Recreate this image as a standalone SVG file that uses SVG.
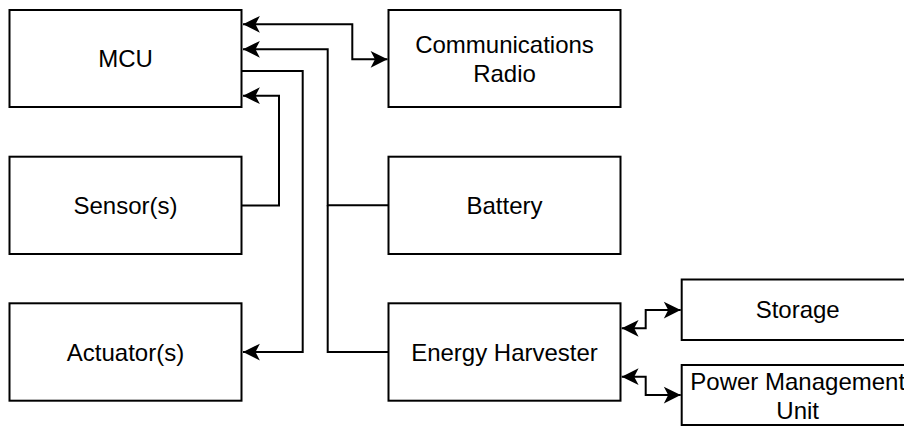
<svg xmlns="http://www.w3.org/2000/svg" width="904" height="426" viewBox="0 0 904 426">
  <style>
    .box { fill: #ffffff; stroke: #000000; stroke-width: 2; }
    .lbl { font-family: "Liberation Sans", Arial, Helvetica, sans-serif; font-size: 24px; fill: #000000; text-anchor: middle; }
    .edge { fill: none; stroke: #000000; stroke-width: 2; }
    .one { marker-end: url(#arrow); }
    .two { marker-start: url(#arrow); marker-end: url(#arrow); }
  </style>
  <defs>
    <marker id="arrow" markerUnits="userSpaceOnUse" markerWidth="20" markerHeight="20" refX="0" refY="0" viewBox="-15 -8 16 16" orient="auto-start-reverse" overflow="visible">
      <path d="M0,0 L-13.5,-6.7 L-10,0 L-13.5,6.7 Z" fill="#000000" stroke="none"/>
    </marker>
  </defs>
  <rect width="904" height="426" fill="#ffffff"/>

  <g id="connectors">
    <path class="edge two" d="M 243 24.3 H 352.3 V 59.3 H 387.5"/>
    <path class="edge one" d="M 388.5 205.3 H 327.7 V 49.3 H 243"/>
    <path class="edge" d="M 388.5 352 H 327.7 V 205.3"/>
    <path class="edge one" d="M 241.5 205.5 H 279 V 95.7 H 243"/>
    <path class="edge one" d="M 241.5 71 H 302.7 V 352 H 243"/>
    <path class="edge two" d="M 621.7 328.3 H 645.7 V 310 H 680.7"/>
    <path class="edge two" d="M 621.7 376.7 H 645.7 V 395 H 680.7"/>
  </g>

  <g id="mcu">
    <rect class="box" x="9.5" y="10" width="232" height="97"/>
    <text class="lbl" x="125.5" y="67.3">MCU</text>
  </g>
  <g id="sensors">
    <rect class="box" x="9.5" y="156.7" width="232" height="97.3"/>
    <text class="lbl" x="125.5" y="214">Sensor(s)</text>
  </g>
  <g id="actuators">
    <rect class="box" x="9.5" y="303.3" width="232" height="97.4"/>
    <text class="lbl" x="125.5" y="360.6">Actuator(s)</text>
  </g>
  <g id="radio">
    <rect class="box" x="388.5" y="10" width="232" height="97"/>
    <text class="lbl" x="504.5" y="53.3">Communications</text>
    <text class="lbl" x="504.5" y="82.3">Radio</text>
  </g>
  <g id="battery">
    <rect class="box" x="388.5" y="156.7" width="232" height="97.3"/>
    <text class="lbl" x="504.5" y="214">Battery</text>
  </g>
  <g id="harvester">
    <rect class="box" x="388.5" y="303.3" width="232" height="97.4"/>
    <text class="lbl" x="504.5" y="360.6">Energy Harvester</text>
  </g>
  <g id="storage">
    <rect class="box" x="681.7" y="279.5" width="232" height="60.5"/>
    <text class="lbl" x="797.7" y="318.4">Storage</text>
  </g>
  <g id="pmu">
    <rect class="box" x="681.7" y="365" width="232" height="60"/>
    <text class="lbl" x="797.7" y="390">Power Management</text>
    <text class="lbl" x="797.7" y="419">Unit</text>
  </g>
</svg>
